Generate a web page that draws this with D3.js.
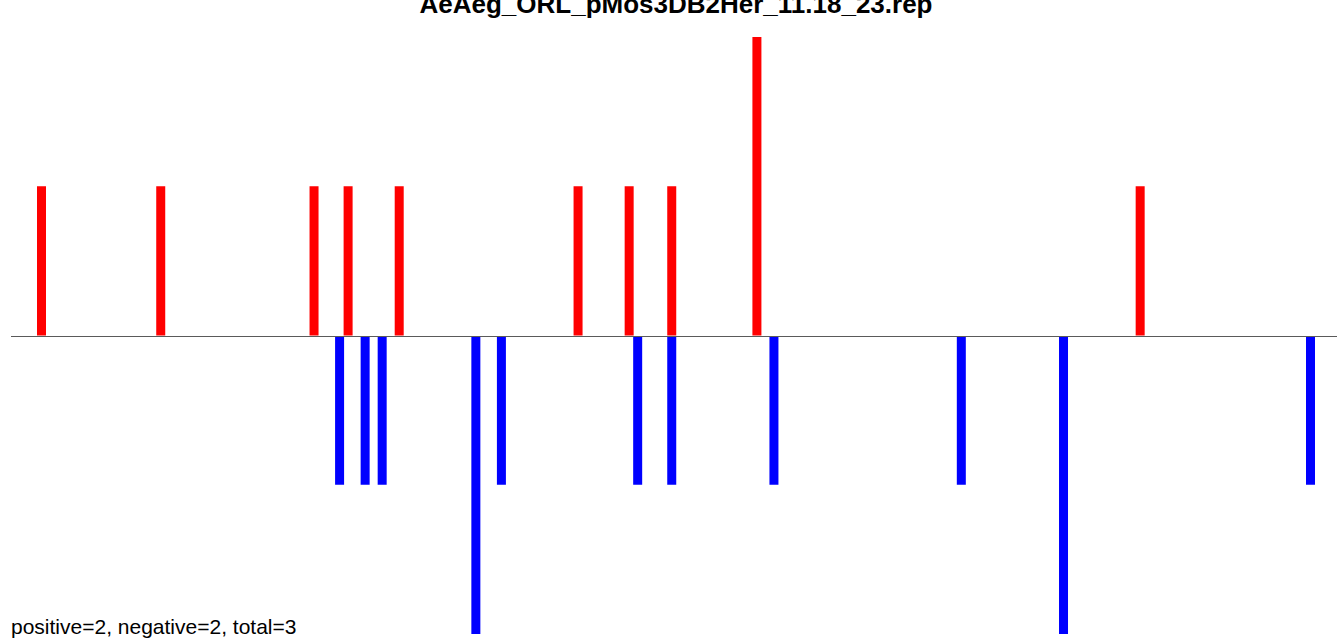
<!DOCTYPE html>
<html>
<head>
<meta charset="utf-8">
<script src="https://cdn.jsdelivr.net/npm/d3@7"></script>
<style>
  html, body { margin: 0; padding: 0; background: #fff; overflow: hidden; }
  svg { display: block; }
</style>
</head>
<body>
<svg id="chart" width="1337" height="640"></svg>
<script>
const titleText = "AeAeg_ORL_pMos3DB2Her_11.18_23.rep";
const footerText = "positive=2, negative=2, total=3";

const positivePositions = [0, 14, 32, 36, 42, 63, 69, 74, 84, 129];
const positiveValues    = [1, 1, 1, 1, 1, 1, 1, 1, 2, 1];
const negativePositions = [35, 38, 40, 51, 54, 70, 74, 86, 108, 120, 149];
const negativeValues    = [-1, -1, -1, -2, -1, -1, -1, -1, -1, -2, -1];

const svg = d3.select("#chart");
const axisLeft = 11, axisRight = 1337;
const barW = 9;

const x = d3.scaleLinear().domain([0, 149]).range([41.5, 1310.5]);
const y = d3.scaleLinear().domain([-2, 2]).range([634, 37]);

const pos = positivePositions.map((p, i) => ({ p, v: positiveValues[i] }));
const neg = negativePositions.map((p, i) => ({ p, v: negativeValues[i] }));

svg.append("line")
  .attr("x1", axisLeft).attr("x2", axisRight)
  .attr("y1", Math.round(y(0)) + 0.5).attr("y2", Math.round(y(0)) + 0.5)
  .attr("stroke", "#5a5a5a").attr("stroke-width", 1);

svg.append("g").selectAll("rect").data(pos).join("rect")
  .attr("x", d => x(d.p) - barW / 2)
  .attr("width", barW)
  .attr("y", d => y(d.v))
  .attr("height", d => y(0) - y(d.v))
  .attr("fill", "#ff0000");

svg.append("g").selectAll("rect").data(neg).join("rect")
  .attr("x", d => x(d.p) - barW / 2)
  .attr("width", barW)
  .attr("y", Math.round(y(0)) + 1)
  .attr("height", d => y(d.v) - Math.round(y(0)) - 1)
  .attr("fill", "#0000ff");

svg.append("text")
  .attr("x", 676).attr("y", 13)
  .attr("text-anchor", "middle")
  .attr("font-family", "Liberation Sans, Arial, sans-serif")
  .attr("font-weight", "bold")
  .attr("font-size", 26)
  .attr("fill", "#000")
  .text(titleText);

svg.append("text")
  .attr("x", 11).attr("y", 634)
  .attr("font-family", "Liberation Sans, Arial, sans-serif")
  .attr("font-size", 21)
  .attr("fill", "#000")
  .text(footerText);
</script>
</body>
</html>
